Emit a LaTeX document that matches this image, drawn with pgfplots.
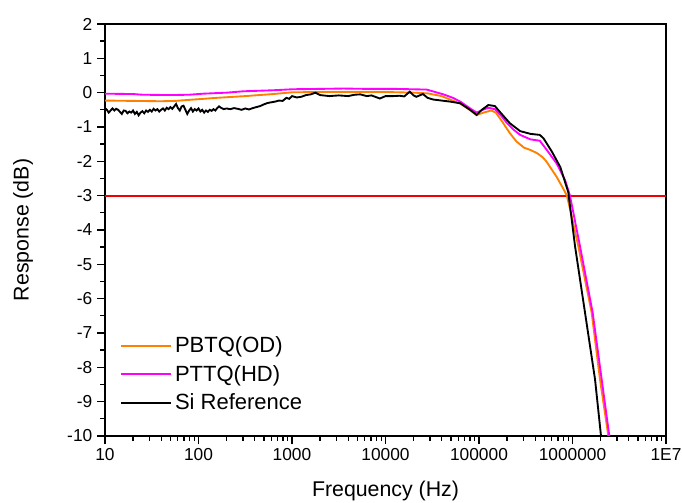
\documentclass[border=0pt]{standalone}
\usepackage{pgfplots}
\usepackage{pgfplotstable}
\pgfplotsset{compat=1.18}
\usepackage{fontspec}
\setmainfont{Liberation Sans}
\definecolor{corange}{RGB}{255,128,0}
\definecolor{cpink}{RGB}{255,0,255}
\definecolor{cred}{RGB}{240,0,0}

\pgfplotstableread{
lf db
1.00 -0.23
1.30 -0.24
1.60 -0.25
1.75 -0.24
2.00 -0.19
2.20 -0.15
2.50 -0.10
2.80 -0.04
3.00 0.01
3.30 0.02
3.70 0.02
4.00 0.02
4.30 0.00
4.45 -0.02
4.60 -0.10
4.69 -0.20
4.80 -0.32
4.90 -0.50
4.975 -0.65
5.05 -0.58
5.13 -0.52
5.18 -0.58
5.25 -0.85
5.33 -1.18
5.40 -1.42
5.48 -1.60
5.55 -1.67
5.62 -1.76
5.68 -1.88
5.72 -2.00
5.83 -2.45
5.90 -2.79
5.94 -3.00
5.984 -3.51
6.062 -4.47
6.205 -6.41
6.294 -8.35
6.366 -9.68
6.40 -10.3
}\orangedata

\pgfplotstableread{
lf db
1.00 -0.03
1.30 -0.04
1.40 -0.06
1.70 -0.07
1.90 -0.06
2.05 -0.03
2.30 0.00
2.48 0.04
2.80 0.07
3.01 0.10
3.30 0.11
3.55 0.12
3.80 0.11
4.10 0.11
4.44 0.09
4.62 -0.05
4.72 -0.15
4.80 -0.26
4.90 -0.45
4.975 -0.58
5.04 -0.50
5.10 -0.44
5.17 -0.48
5.24 -0.68
5.30 -0.89
5.37 -1.08
5.44 -1.23
5.55 -1.36
5.65 -1.40
5.72 -1.65
5.83 -2.06
5.92 -2.54
5.973 -3.00
6.08 -4.47
6.216 -6.41
6.312 -8.35
6.394 -10.0
6.41 -10.3
}\pinkdata

\pgfplotstableread{
lf db
1.00 -0.45
1.02 -0.50
1.04 -0.58
1.06 -0.52
1.08 -0.46
1.10 -0.52
1.12 -0.47
1.14 -0.50
1.16 -0.56
1.18 -0.62
1.20 -0.52
1.22 -0.53
1.24 -0.60
1.26 -0.55
1.28 -0.58
1.30 -0.52
1.32 -0.62
1.34 -0.56
1.36 -0.66
1.38 -0.58
1.40 -0.54
1.42 -0.60
1.44 -0.52
1.46 -0.56
1.48 -0.50
1.50 -0.55
1.52 -0.47
1.54 -0.52
1.56 -0.48
1.58 -0.55
1.60 -0.50
1.62 -0.46
1.64 -0.52
1.66 -0.44
1.68 -0.48
1.70 -0.42
1.72 -0.47
1.74 -0.40
1.76 -0.33
1.78 -0.45
1.80 -0.52
1.82 -0.40
1.84 -0.38
1.86 -0.50
1.88 -0.62
1.90 -0.52
1.92 -0.45
1.94 -0.55
1.96 -0.48
1.98 -0.52
2.00 -0.46
2.02 -0.55
2.04 -0.50
2.06 -0.58
2.08 -0.52
2.10 -0.56
2.12 -0.50
2.14 -0.53
2.16 -0.48
2.18 -0.52
2.20 -0.45
2.22 -0.40
2.24 -0.44
2.27 -0.48
2.30 -0.46
2.34 -0.48
2.38 -0.45
2.42 -0.47
2.46 -0.50
2.50 -0.46
2.54 -0.49
2.58 -0.45
2.62 -0.42
2.66 -0.39
2.70 -0.34
2.74 -0.30
2.78 -0.28
2.82 -0.26
2.86 -0.23
2.90 -0.24
2.94 -0.15
2.97 -0.18
3.00 -0.10
3.05 -0.14
3.10 -0.12
3.15 -0.07
3.20 -0.05
3.25 0.00
3.30 -0.07
3.40 -0.10
3.50 -0.08
3.60 -0.10
3.67 -0.06
3.73 -0.05
3.80 -0.10
3.85 -0.08
3.90 -0.13
3.94 -0.17
4.00 -0.10
4.08 -0.10
4.15 -0.09
4.20 -0.11
4.26 0.03
4.30 -0.08
4.33 -0.12
4.40 -0.04
4.45 -0.15
4.51 -0.20
4.60 -0.23
4.69 -0.26
4.80 -0.31
4.90 -0.49
4.975 -0.65
5.03 -0.50
5.10 -0.36
5.17 -0.39
5.22 -0.55
5.33 -0.89
5.44 -1.12
5.55 -1.20
5.65 -1.23
5.69 -1.33
5.78 -1.72
5.87 -2.17
5.955 -2.90
6.027 -4.47
6.134 -6.41
6.241 -8.35
6.305 -10.0
6.32 -10.3
}\blackdata

\begin{document}
\begin{tikzpicture}
\useasboundingbox (-78.75pt,-50.25pt) rectangle (432.75pt,327pt);
\begin{axis}[
  scale only axis,
  width=420.75pt, height=309pt,
  at={(0,0)}, anchor=south west,
  xmode=log,
  xmin=10, xmax=1e7,
  ymin=-10, ymax=2,
  xtick={10,100,1000,10000,100000,1000000,10000000},
  xticklabels={10,100,1000,10000,100000,1000000,1E7},
  ytick={-10,-9,-8,-7,-6,-5,-4,-3,-2,-1,0,1,2},
  yticklabels={-10,-9,-8,-7,-6,-5,-4,-3,-2,-1,0,1,2},
  minor ytick={-9.5,-8.5,-7.5,-6.5,-5.5,-4.5,-3.5,-2.5,-1.5,-0.5,0.5,1.5},
  xtick pos=bottom, ytick pos=left,
  tick align=outside,
  major tick length=6pt,
  minor tick length=3.5pt,
  every tick/.style={black, line width=1pt},
  axis line style={line width=1.4pt},
  tick label style={font=\fontsize{13}{15}\selectfont},
  xlabel={Frequency (Hz)},
  ylabel={Response (dB)},
  label style={font=\fontsize{16}{19}\selectfont},
  xlabel style={at={(axis description cs:0.5,-0.148)}, anchor=base},
  ylabel style={at={(axis description cs:-0.146,0.5)}, anchor=center},
  legend style={draw=none, fill=none, at={(axis description cs:0.02,0.045)}, anchor=south west,
    font=\fontsize{16.5}{20}\selectfont, row sep=4pt},
  legend cell align=left,
  legend image code/.code={\draw[#1] (0pt,0pt) -- (37.5pt,0pt);},
]
\addplot[draw=cred, line width=1.3pt, forget plot] coordinates {(10,-3) (10000000,-3)};
\addplot[draw=corange, line width=1.4pt] table[x expr={10^\thisrow{lf}}, y=db] {\orangedata};
\addlegendentry{PBTQ(OD)}
\addplot[draw=cpink, line width=1.4pt] table[x expr={10^\thisrow{lf}}, y=db] {\pinkdata};
\addlegendentry{PTTQ(HD)}
\addplot[draw=black, line width=1.4pt] table[x expr={10^\thisrow{lf}}, y=db] {\blackdata};
\addlegendentry{Si Reference}
\end{axis}
\end{tikzpicture}
\end{document}
